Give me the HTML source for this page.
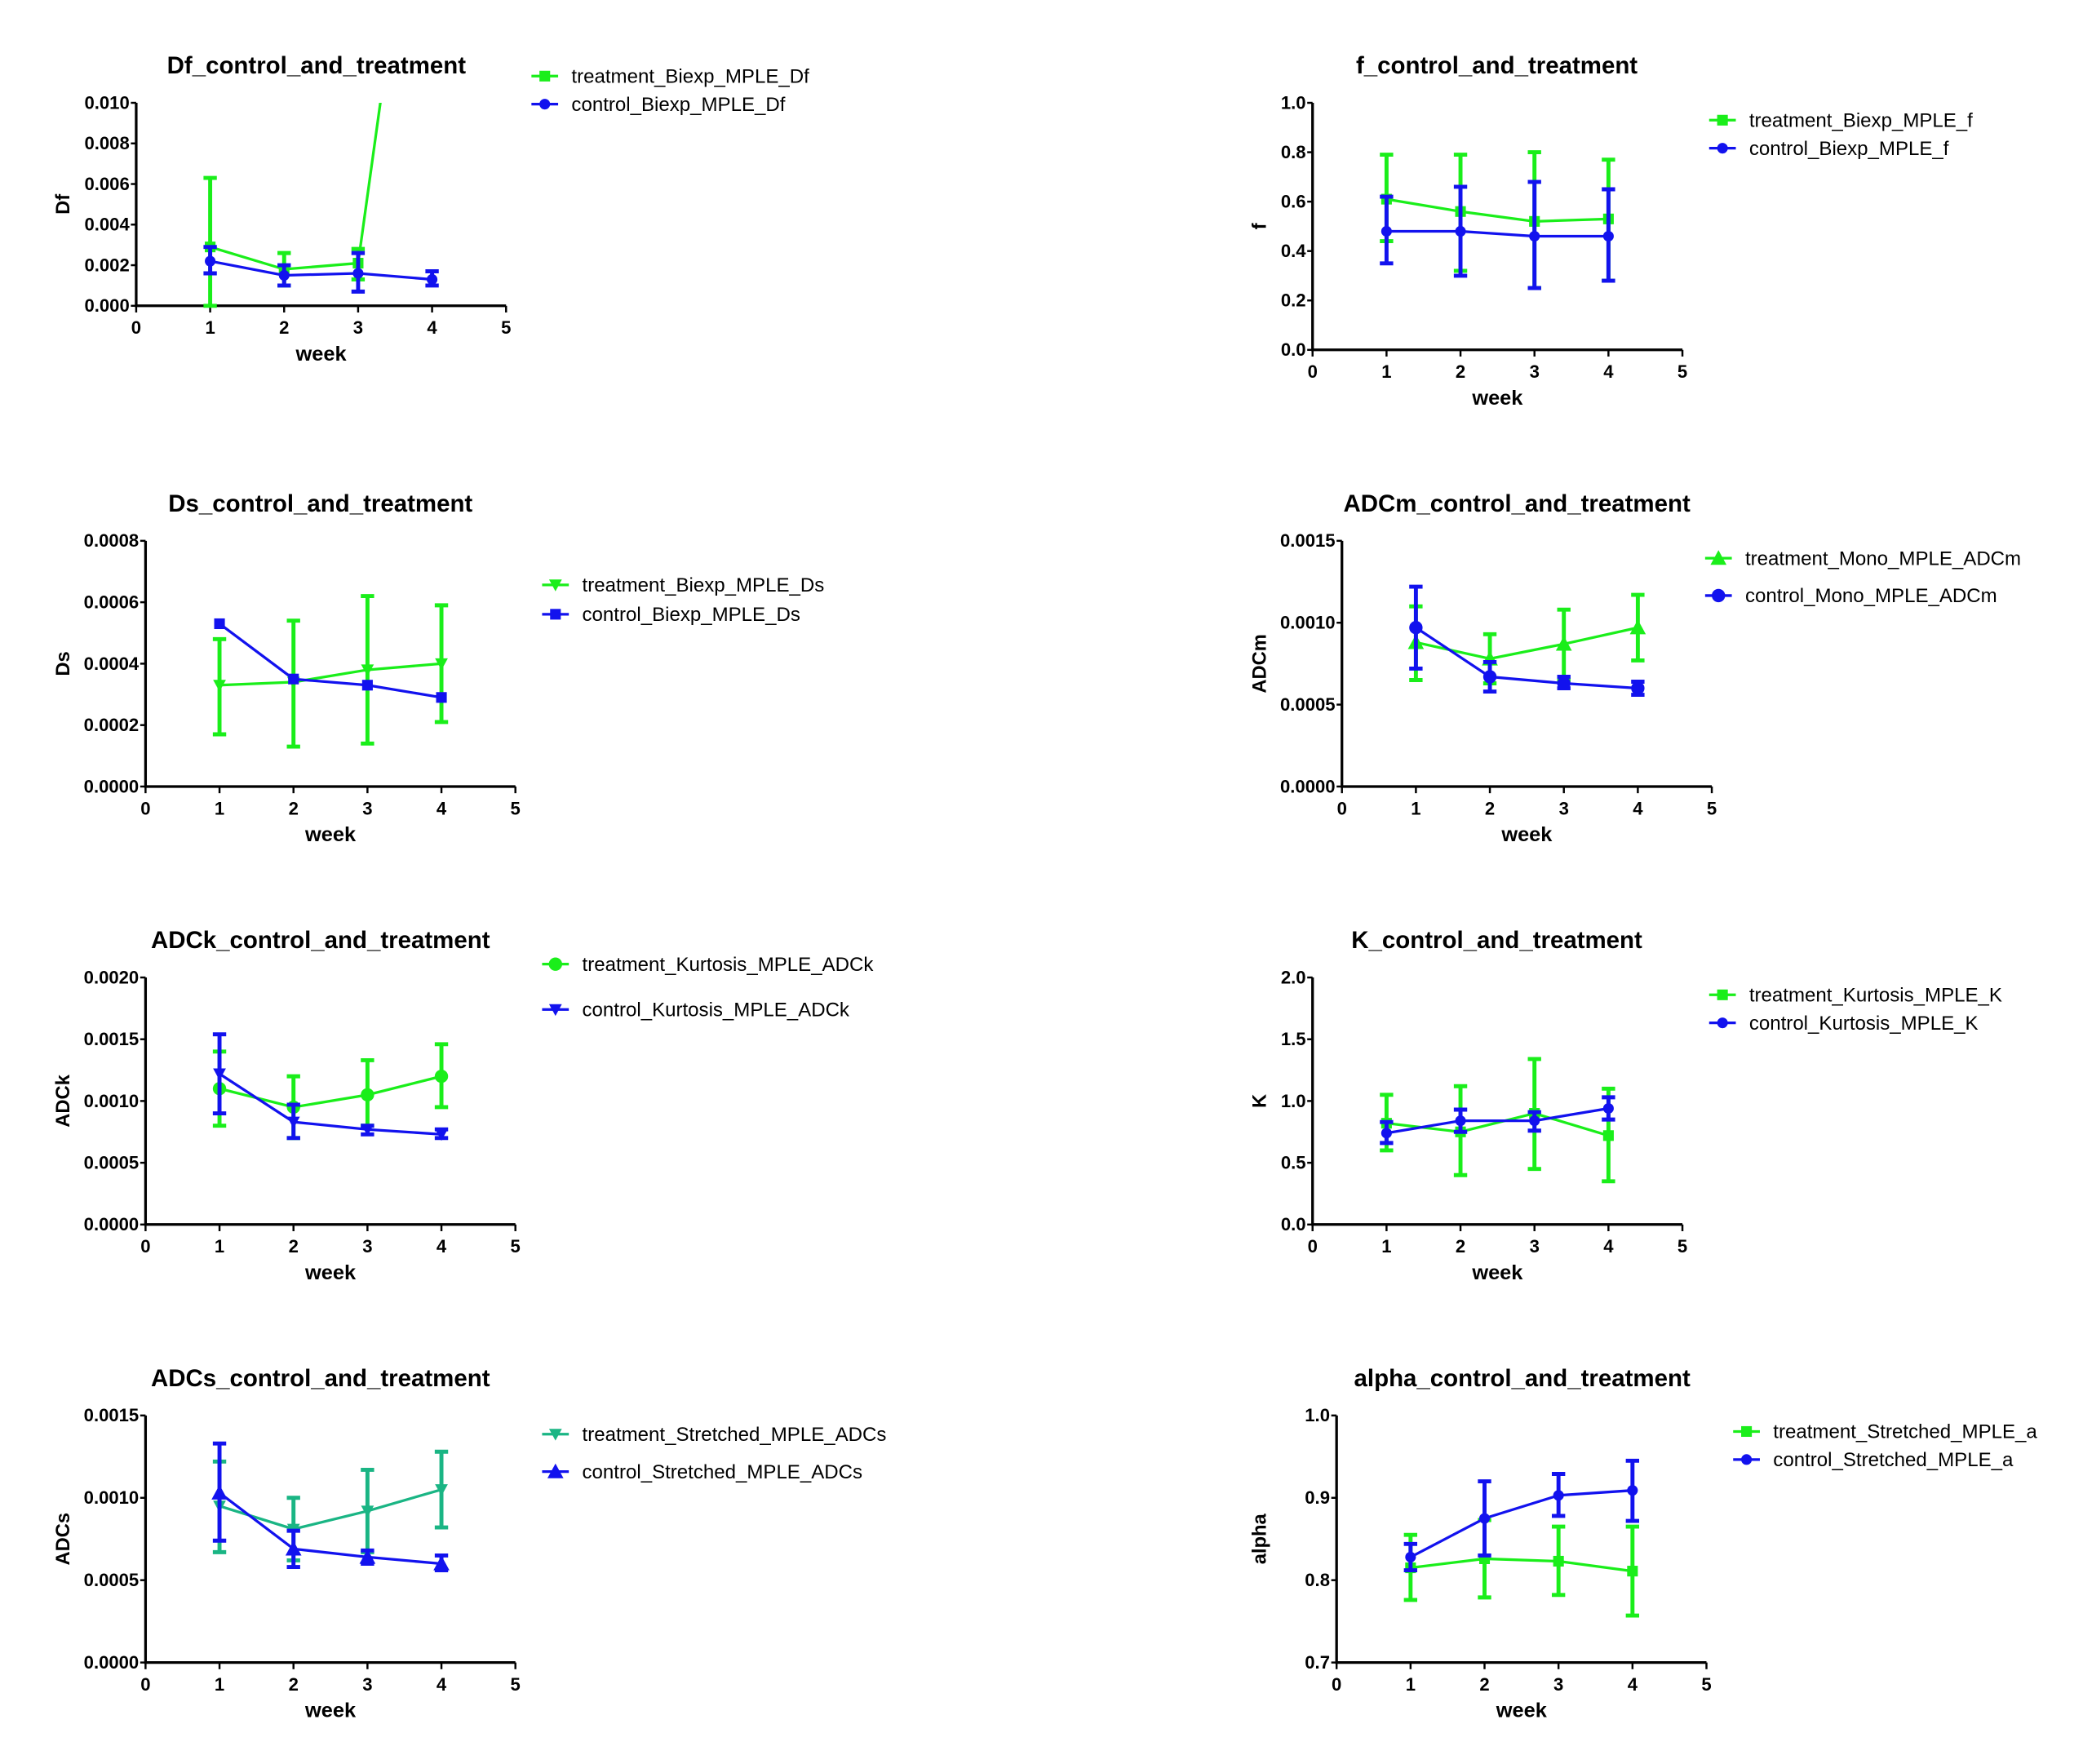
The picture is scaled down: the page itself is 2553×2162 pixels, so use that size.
<!DOCTYPE html>
<html><head><meta charset="utf-8"><style>
html,body{margin:0;padding:0;background:#fff;}
svg{display:block;}
text{font-family:"Liberation Sans",Arial,sans-serif;}
</style></head><body>
<svg id="fig" width="2553" height="2162" viewBox="0 0 1560 1321" preserveAspectRatio="none" xmlns="http://www.w3.org/2000/svg"></svg>
<script>
const weeks=[1,2,3,4];
// Df
const dfTickLabels=["0.000","0.002","0.004","0.006","0.008","0.010"];
const dfTreatMean=[0.0029,0.0018,0.0021,0.0284];
const dfTreatLo=[0,0.0010,0.0013,0.0284];
const dfTreatHi=[0.0063,0.0026,0.0028,0.0284];
const dfCtrlMean=[0.0022,0.0015,0.0016,0.0013];
const dfCtrlLo=[0.0016,0.0010,0.0007,0.0010];
const dfCtrlHi=[0.0029,0.0020,0.0026,0.0017];
// f
const fTickLabels=["0.0","0.2","0.4","0.6","0.8","1.0"];
const fTreatMean=[0.61,0.56,0.52,0.53];
const fTreatLo=[0.44,0.32,0.25,0.28];
const fTreatHi=[0.79,0.79,0.80,0.77];
const fCtrlMean=[0.48,0.48,0.46,0.46];
const fCtrlLo=[0.35,0.30,0.25,0.28];
const fCtrlHi=[0.62,0.66,0.68,0.65];
// Ds
const dsTickLabels=["0.0000","0.0002","0.0004","0.0006","0.0008"];
const dsTreatMean=[0.00033,0.00034,0.00038,0.00040];
const dsTreatLo=[0.00017,0.00013,0.00014,0.00021];
const dsTreatHi=[0.00048,0.00054,0.00062,0.00059];
const dsCtrlMean=[0.00053,0.00035,0.00033,0.00029];
const dsCtrlLo=[0.00053,0.00035,0.00033,0.00029];
const dsCtrlHi=[0.00053,0.00035,0.00033,0.00029];
// ADCm
const adcmTickLabels=["0.0000","0.0005","0.0010","0.0015"];
const adcmTreatMean=[0.00088,0.00078,0.00087,0.00097];
const adcmTreatLo=[0.00065,0.00063,0.00065,0.00077];
const adcmTreatHi=[0.00110,0.00093,0.00108,0.00117];
const adcmCtrlMean=[0.00097,0.00067,0.00063,0.00060];
const adcmCtrlLo=[0.00072,0.00058,0.00060,0.00056];
const adcmCtrlHi=[0.00122,0.00076,0.00067,0.00064];
// ADCk
const adckTickLabels=["0.0000","0.0005","0.0010","0.0015","0.0020"];
const adckTreatMean=[0.00110,0.00095,0.00105,0.00120];
const adckTreatLo=[0.00080,0.00070,0.00080,0.00095];
const adckTreatHi=[0.00140,0.00120,0.00133,0.00146];
const adckCtrlMean=[0.00122,0.00083,0.00077,0.00073];
const adckCtrlLo=[0.00090,0.00070,0.00073,0.00070];
const adckCtrlHi=[0.00154,0.00097,0.00080,0.00077];
// K
const kTickLabels=["0.0","0.5","1.0","1.5","2.0"];
const kTreatMean=[0.82,0.75,0.90,0.72];
const kTreatLo=[0.60,0.40,0.45,0.35];
const kTreatHi=[1.05,1.12,1.34,1.10];
const kCtrlMean=[0.74,0.84,0.84,0.94];
const kCtrlLo=[0.66,0.75,0.76,0.85];
const kCtrlHi=[0.83,0.93,0.91,1.03];
// ADCs
const adcsTickLabels=["0.0000","0.0005","0.0010","0.0015"];
const adcsTreatMean=[0.00095,0.00081,0.00092,0.00105];
const adcsTreatLo=[0.00067,0.00062,0.00067,0.00082];
const adcsTreatHi=[0.00122,0.00100,0.00117,0.00128];
const adcsCtrlMean=[0.00103,0.00069,0.00064,0.00060];
const adcsCtrlLo=[0.00074,0.00058,0.00060,0.00056];
const adcsCtrlHi=[0.00133,0.00080,0.00068,0.00065];
// alpha
const alphaTickLabels=["0.7","0.8","0.9","1.0"];
const alphaTreatMean=[0.815,0.826,0.823,0.811];
const alphaTreatLo=[0.776,0.779,0.782,0.757];
const alphaTreatHi=[0.855,0.873,0.865,0.865];
const alphaCtrlMean=[0.828,0.875,0.903,0.909];
const alphaCtrlLo=[0.812,0.830,0.878,0.872];
const alphaCtrlHi=[0.844,0.920,0.929,0.945];

const G="#1aee1a",B="#1212ee",T="#1ab584";
const charts=[
 {id:"df",title:"Df_control_and_treatment",tx:237,ylab:"Df",x0:102,x5:379,yt:77,yb:229,ticks:dfTickLabels,
  s:[{n:"treatment_Biexp_MPLE_Df",c:G,m:"sq",mean:dfTreatMean,lo:dfTreatLo,hi:dfTreatHi},{n:"control_Biexp_MPLE_Df",c:B,m:"ci",mean:dfCtrlMean,lo:dfCtrlLo,hi:dfCtrlHi}],
  leg:[398,57,21]},
 {id:"f",title:"f_control_and_treatment",tx:1121,ylab:"f",x0:983,x5:1260,yt:77,yb:262,ticks:fTickLabels,
  s:[{n:"treatment_Biexp_MPLE_f",c:G,m:"sq",mean:fTreatMean,lo:fTreatLo,hi:fTreatHi},{n:"control_Biexp_MPLE_f",c:B,m:"ci",mean:fCtrlMean,lo:fCtrlLo,hi:fCtrlHi}],
  leg:[1280,90,21]},
 {id:"ds",title:"Ds_control_and_treatment",tx:240,ylab:"Ds",x0:109,x5:386,yt:405,yb:589,ticks:dsTickLabels,
  s:[{n:"treatment_Biexp_MPLE_Ds",c:G,m:"td",mean:dsTreatMean,lo:dsTreatLo,hi:dsTreatHi},{n:"control_Biexp_MPLE_Ds",c:B,m:"sq",mean:dsCtrlMean,lo:dsCtrlLo,hi:dsCtrlHi}],
  leg:[406,438,22]},
 {id:"adcm",title:"ADCm_control_and_treatment",tx:1136,ylab:"ADCm",x0:1005,x5:1282,yt:405,yb:589,ticks:adcmTickLabels,
  s:[{n:"treatment_Mono_MPLE_ADCm",c:G,m:"tu",mean:adcmTreatMean,lo:adcmTreatLo,hi:adcmTreatHi,big:1},{n:"control_Mono_MPLE_ADCm",c:B,m:"ci",mean:adcmCtrlMean,lo:adcmCtrlLo,hi:adcmCtrlHi,big:1}],
  leg:[1277,418,28]},
 {id:"adck",title:"ADCk_control_and_treatment",tx:240,ylab:"ADCk",x0:109,x5:386,yt:732,yb:917,ticks:adckTickLabels,
  s:[{n:"treatment_Kurtosis_MPLE_ADCk",c:G,m:"ci",mean:adckTreatMean,lo:adckTreatLo,hi:adckTreatHi,big:1},{n:"control_Kurtosis_MPLE_ADCk",c:B,m:"td",mean:adckCtrlMean,lo:adckCtrlLo,hi:adckCtrlHi}],
  leg:[406,722,34]},
 {id:"k",title:"K_control_and_treatment",tx:1121,ylab:"K",x0:983,x5:1260,yt:732,yb:917,ticks:kTickLabels,
  s:[{n:"treatment_Kurtosis_MPLE_K",c:G,m:"sq",mean:kTreatMean,lo:kTreatLo,hi:kTreatHi},{n:"control_Kurtosis_MPLE_K",c:B,m:"ci",mean:kCtrlMean,lo:kCtrlLo,hi:kCtrlHi}],
  leg:[1280,745,21]},
 {id:"adcs",title:"ADCs_control_and_treatment",tx:240,ylab:"ADCs",x0:109,x5:386,yt:1060,yb:1245,ticks:adcsTickLabels,
  s:[{n:"treatment_Stretched_MPLE_ADCs",c:T,m:"td",mean:adcsTreatMean,lo:adcsTreatLo,hi:adcsTreatHi},{n:"control_Stretched_MPLE_ADCs",c:B,m:"tu",mean:adcsCtrlMean,lo:adcsCtrlLo,hi:adcsCtrlHi,big:1}],
  leg:[406,1074,28]},
 {id:"alpha",title:"alpha_control_and_treatment",tx:1140,ylab:"alpha",x0:1001,x5:1278,yt:1060,yb:1245,ticks:alphaTickLabels,
  s:[{n:"treatment_Stretched_MPLE_a",c:G,m:"sq",mean:alphaTreatMean,lo:alphaTreatLo,hi:alphaTreatHi},{n:"control_Stretched_MPLE_a",c:B,m:"ci",mean:alphaCtrlMean,lo:alphaCtrlLo,hi:alphaCtrlHi}],
  leg:[1298,1072,21]}
];
const NS="http://www.w3.org/2000/svg";
const svg=document.getElementById('fig');
function mk(tag,attrs,parent){const e=document.createElementNS(NS,tag);for(const k in attrs)e.setAttribute(k,attrs[k]);(parent||svg).appendChild(e);return e;}
function marker(g,type,x,y,c,r){
  let e;
  if(type==="sq")e=mk('rect',{x:x-r,y:y-r,width:2*r,height:2*r,fill:c},g);
  else if(type==="ci")e=mk('circle',{cx:x,cy:y,r:r,fill:c},g);
  else if(type==="tu")e=mk('polygon',{points:`${x},${y-r*1.2} ${x-r*1.2},${y+r} ${x+r*1.2},${y+r}`,fill:c},g);
  else e=mk('polygon',{points:`${x},${y+r*1.2} ${x-r*1.2},${y-r} ${x+r*1.2},${y-r}`,fill:c},g);
  return e;
}
charts.forEach(ch=>{
  const g=mk('g',{});
  
  
  const vals=ch.ticks.map(Number);
  const vmin=vals[0],vmax=vals[vals.length-1];
  const X=w=>ch.x0+(ch.x5-ch.x0)*w/5;
  const Y=v=>ch.yb-(ch.yb-ch.yt)*(v-vmin)/(vmax-vmin);
  const t=mk('text',{x:ch.tx,y:ch.yt-22,'text-anchor':'middle','font-size':18,'font-weight':'bold',fill:'#000'},g);
  t.textContent=ch.title;
  
  
  const ax=mk('path',{d:`M${ch.x0},${ch.yt} V${ch.yb} H${ch.x5}`,stroke:'#000','stroke-width':2,fill:'none'},g);
  
  
  ch.ticks.forEach((lab,i)=>{
    const y=Y(vals[i]);
    mk('line',{x1:ch.x0-4,x2:ch.x0,y1:y,y2:y,stroke:'#000','stroke-width':1.5},g);
    const tl=mk('text',{x:ch.x0-5,y:y+4.5,'text-anchor':'end','font-size':13.5,'font-weight':'bold'},g);
    tl.textContent=lab;
    
    
  });
  for(let w=0;w<=5;w++){
    const x=X(w);
    mk('line',{x1:x,x2:x,y1:ch.yb,y2:ch.yb+5,stroke:'#000','stroke-width':1.5},g);
    const tl=mk('text',{x:x,y:ch.yb+21,'text-anchor':'middle','font-size':13.5,'font-weight':'bold'},g);
    tl.textContent=String(w);
    
    
  }
  const xl=mk('text',{x:X(2.5),y:ch.yb+41,'text-anchor':'middle','font-size':15.5,'font-weight':'bold'},g);
  xl.textContent='week';
  
  
  const ym=(ch.yt+ch.yb)/2, yx=ch.x0<500?52:948;
  const yl=mk('text',{x:yx,y:ym,'text-anchor':'middle','font-size':14.5,'font-weight':'bold',transform:`rotate(-90 ${yx} ${ym})`},g);
  yl.textContent=ch.ylab;
  
  
  const cid='clip-'+ch.id;
  const cp=mk('clipPath',{id:cid},g);
  mk('rect',{x:ch.x0-10,y:ch.yt,width:ch.x5-ch.x0+20,height:ch.yb-ch.yt+10},cp);
  const pg=mk('g',{'clip-path':`url(#${cid})`},g);
  ch.s.forEach((s,si)=>{
    const sg=mk('g',{},pg);
    
    
    const pts=weeks.map((w,i)=>`${X(w)},${Y(s.mean[i])}`).join(' ');
    mk('polyline',{points:pts,fill:'none',stroke:s.c,'stroke-width':2},sg);
    weeks.forEach((w,i)=>{
      const x=X(w);
      if(s.hi[i]!==s.lo[i]){
        const eb=mk('path',{d:`M${x},${Y(s.lo[i])} V${Y(s.hi[i])} M${x-5},${Y(s.lo[i])} h10 M${x-5},${Y(s.hi[i])} h10`,stroke:s.c,'stroke-width':3,fill:'none'},sg);
        
        
      }
      const m=marker(sg,s.m,x,Y(s.mean[i]),s.c,s.big?5:4);
      
      
    });
  });
  ch.s.forEach((s,si)=>{
    const lx=ch.leg[0],ly=ch.leg[1]+si*ch.leg[2];
    const lg=mk('g',{},g);
    
    
    mk('line',{x1:lx,x2:lx+20,y1:ly,y2:ly,stroke:s.c,'stroke-width':2},lg);
    marker(lg,s.m,lx+10,ly,s.c,s.big?5:4);
    const lt=mk('text',{x:lx+30,y:ly+5,'font-size':14.7,fill:'#000'},lg);
    lt.textContent=s.n;
  });
});
</script>
</body></html>
